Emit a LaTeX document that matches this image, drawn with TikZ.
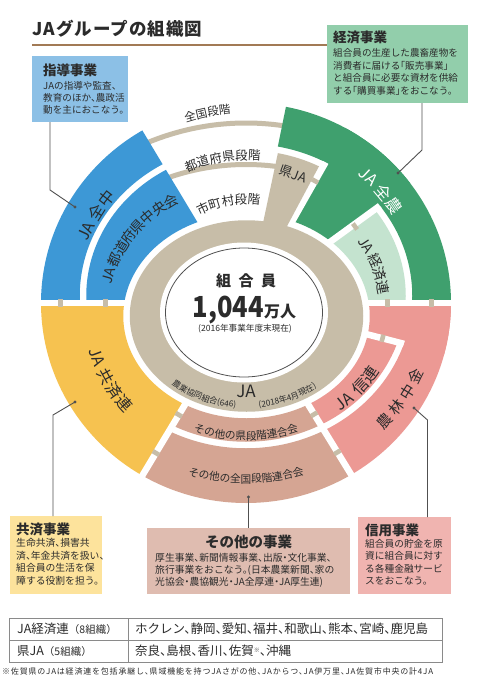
\documentclass[tikz,border=0pt]{standalone}
\usepackage{fontspec}
\usepackage{graphicx}
\setmainfont{Noto Sans CJK JP}
\newfontfamily\hfont{Noto Sans CJK JP}[RawFeature=+halt]
\usetikzlibrary{decorations.text}
\definecolor{cBlue}{HTML}{3D98D6}
\definecolor{cBlueBox}{HTML}{8CC0E6}
\definecolor{cGreen}{HTML}{3FA06E}
\definecolor{cLtGreen}{HTML}{C4E3CF}
\definecolor{cGreenBox}{HTML}{92CEAB}
\definecolor{cYellow}{HTML}{F6C250}
\definecolor{cYellowBox}{HTML}{FDE39C}
\definecolor{cPink}{HTML}{EC9994}
\definecolor{cPinkBox}{HTML}{F0B4B0}
\definecolor{cBrown}{HTML}{D5A593}
\definecolor{cBrownBox}{HTML}{DFBCB0}
\definecolor{cBeige}{HTML}{C7BDA8}
\definecolor{cText}{HTML}{2B2B2B}
\definecolor{cLine}{HTML}{505050}
\definecolor{cRule}{HTML}{A27A55}
\definecolor{cTable}{HTML}{8A8A8A}
\def\OutThree{(246,-303) ellipse [x radius=205, y radius=200]}
\def\InThree{(246,-296) ellipse [x radius=166.25, y radius=152.25]}
\def\OutTwo{(246,-296) ellipse [x radius=159.75, y radius=145.75]}
\def\InTwo{(246.5,-316) ellipse [x radius=123.25, y radius=102.25]}
\def\OutOne{(246.5,-316) ellipse [x radius=116.75, y radius=95.75]}
\def\InOne{(244,-312.5) ellipse [x radius=84, y radius=70]}
\def\CoreE{(244,-312.5) ellipse [x radius=78.5, y radius=64.5]}
\newcommand\ringsector[4]{%
  \begin{scope}
    \clip (246,-303) -- ++(#2:420) arc[start angle=#2,end angle=#3,radius=420] -- cycle;
    \fill[#1,even odd rule] #4;
  \end{scope}}
\newcommand\arctext[7]{%
  \path[decorate, decoration={text along path, text={#1}, text align=center}]
    ([shift={(#2,#3)}]#6:#4 and #5) arc[start angle=#6, end angle=#7, x radius=#4, y radius=#5];}
% characters placed one by one on an ellipse: name, cx, cy, rx, ry, mode (1 tops out / -1 tops in), angle/char list, style
\newcommand\charlabel[8]{%
  \foreach \ang/\cc [count=\i] in {#7} {%
    \pgfmathsetmacro\rot{ifthenelse(#6>0, atan2(-(#5)*cos(\ang),(#4)*sin(\ang)), atan2((#5)*cos(\ang),-(#4)*sin(\ang)))}%
    \node[rotate=\rot, inner sep=0pt, #8] (#1\i) at ([shift={(#2,#3)}]\ang:#4 and #5) {\cc};
  }}
\begin{document}
\begin{tikzpicture}[x=1pt,y=1pt,
  gapline/.style={white, line width=6.5pt},
  stubn/.style={fill=cBeige, draw=none, inner sep=0pt, minimum width=4.6pt, minimum height=7.2pt},
  conn/.style={draw=cLine, line width=0.9pt},
  dotn/.style={circle, fill=cLine, inner sep=0pt, minimum size=3.4pt},
  boxn/.style={anchor=north west, inner sep=0pt, outer sep=0pt, draw=none},
  ttl/.style={anchor=west, inner sep=0pt, text=cText, font=\bfseries\fontsize{13.5}{14}\selectfont},
  body/.style={anchor=north west, inner sep=0pt, align=left, text=cText},
  bigl/.style={text=cText, font=\fontsize{16}{16}\selectfont},
  midl/.style={text=cText, font=\fontsize{14}{14}\selectfont}]
\useasboundingbox (0,0) rectangle (490,-680);
\fill[white] (0,0) rectangle (490,-680);

% title
\node[anchor=west, inner sep=0pt, text=cText, font=\bfseries\fontsize{17.5}{18}\selectfont\addfontfeature{LetterSpace=6}] (title) at (32,-28.5) {JAグループの組織図};

% thin level arcs in the top wedge
\draw[cBeige, line width=5pt] ([shift={(246,-380)}]125:257) arc[start angle=125,end angle=75,radius=257];
\draw[cBeige, line width=5pt] ([shift={(246,-401)}]112:236.5) arc[start angle=112,end angle=80,radius=236.5];

% sectors
\ringsector{cBlue}{121}{180}{\OutThree\InThree}
\ringsector{cBlue}{121}{180}{\OutTwo\InTwo}
\ringsector{cYellow}{180}{239}{\OutThree\InTwo}
\ringsector{cBrown}{239}{301.5}{\OutTwo\InTwo}
\ringsector{cBrown}{239}{301.5}{\OutThree\InThree}
\ringsector{cPink}{301.5}{345.5}{\OutTwo\InTwo}
\ringsector{cPink}{301.5}{360}{\OutThree\InThree}
\ringsector{cPink}{345.5}{360}{\OutThree\InTwo}
\ringsector{cLtGreen}{0}{36}{\OutTwo\InTwo}
\ringsector{cGreen}{0}{78.5}{\OutThree\InThree}
\ringsector{cGreen}{36}{60.5}{\OutThree\InTwo}

% white gaps
\foreach \a in {180,239,301.5,0} \draw[gapline] (246,-303) -- ++(\a:260);
\begin{scope}
  \clip \InThree;
  \foreach \a in {345.5,36,60.5} \draw[gapline] (246,-303) -- ++(\a:260);
\end{scope}

% municipal ring, prefecture JA, core
\fill[cBeige] \OutOne;
\ringsector{cBeige}{61.9}{78}{\OutTwo\InOne}
\fill[white] \InOne;
\draw[cLine, line width=0.8pt] \CoreE;

% small beige bridges across the gaps
\node[stubn] (st1) at (60.5,-303) {};
\node[stubn] (st2) at (105.3,-303) {};
\node[stubn, rotate=239] (st3) at (155.9,-453) {};
\node[stubn, rotate=239] (st4) at (178.8,-414.8) {};
\node[stubn, rotate=301.5] (st5) at (337.3,-452.3) {};
\node[stubn, rotate=301.5] (st6) at (314.1,-414.3) {};
\node[stubn] (st7) at (431.5,-303) {};
\node[stubn] (st8) at (387.2,-303) {};
\node[stubn, rotate=345.5] (st9) at (382.5,-338.3) {};
\node[stubn, rotate=36] (st10) at (355,-226.5) {};
\node[stubn, rotate=60.5] (st11) at (315,-181) {};

% level labels
\arctext{|\fontsize{11.5}{12}\selectfont\color{cText}|全国段階}{246}{-303}{190}{190}{141.5}{61.5}
\arctext{|\fontsize{12.5}{13}\selectfont\color{cText}|都道府県段階}{246}{-303}{143}{143}{139.3}{59.3}
\arctext{|\fontsize{12.5}{13}\selectfont\color{cText}|市町村段階}{246}{-303}{99}{99}{150}{50}
\node[rotate=-20, font=\fontsize{13}{13}\selectfont, text=cText, inner sep=0pt] (kenja) at (293,-174) {県JA};

% sector labels, one character at a time
\charlabel{zc}{246}{-299}{174.6}{168}{1}{156.2/JA,148.9/全,143.1/中}{bigl}
\charlabel{tc}{246}{-306}{141}{124}{1}{165.9/JA,158.2/都,152.2/道,146.2/府,140.2/県,134.2/中,128.2/央,122.2/会}{midl}
\charlabel{zn}{246}{-299}{176.9}{170.2}{1}{46.2/JA,38.9/全,33.1/農}{bigl, text=white}
\charlabel{kr}{246}{-306}{139}{121.8}{1}{30.1/JA,21.8/経,15.3/済,8.8/連}{midl}
\charlabel{ky}{246}{-309}{158}{147.8}{-1}{199.1/JA,207.3/共,213.6/済,219.9/連}{bigl}
\charlabel{sr}{246}{-306}{146.7}{128.6}{-1}{312.2/JA,321.1/信,328.1/連}{bigl}
\charlabel{nc}{246}{-299}{188}{180.9}{-1}{317.5/農,323.2/林,329/中,334.7/金}{text=cText, font=\fontsize{15}{15}\selectfont}
\arctext{|\fontsize{10.7}{11}\selectfont\color{cText}|その他の県段階連合会}{246}{-296}{158}{144}{225}{315}
\arctext{|\fontsize{10.7}{11}\selectfont\color{cText}|その他の全国段階連合会}{246}{-302}{198}{181}{230}{310}
\arctext{|\fontsize{8.3}{9}\selectfont\color{cText}|農業協同組合(646)}{246.5}{-316}{111.6}{92}{213}{278}
\arctext{|\fontsize{8.3}{9}\selectfont\color{cText}|(2018年4月現在)}{246.5}{-316}{111.6}{92}{261}{326}

% core texts
\node[font=\bfseries\fontsize{15}{15}\selectfont, text=cText, inner sep=0pt] (kumiai) at (246,-281) {組\hspace{7.5pt}合\hspace{7.5pt}員};
\node[anchor=base, inner sep=0pt, text=cText] (num) at (244.5,-317.5) {{\fontsize{29}{29}\selectfont\bfseries\scalebox{0.88}[1]{1,044}}{\fontsize{16}{16}\selectfont\bfseries 万人}};
\node[font=\fontsize{8.6}{9}\selectfont, text=cText, inner sep=0pt] (asof) at (245,-328.5) {(2016年事業年度末現在)};
\node[font=\fontsize{17}{17}\selectfont, text=cText, inner sep=0pt] (jaL) at (246,-391.5) {JA};

% boxes
\node[boxn, fill=cBlueBox, minimum width=96pt, minimum height=66pt] (bShido) at (32,-56) {};
\node[ttl] (tShido) at (43,-70) {指導事業};
\node[body, font=\hfont\fontsize{9.6}{12.2}\selectfont] (xShido) at (43,-81.2) {JAの指導や監査、\\教育のほか、農政活\\動を主におこなう。};

\node[boxn, fill=cGreenBox, minimum width=141pt, minimum height=78pt] (bKeizai) at (327,-25) {};
\node[ttl] (tKeizai) at (333,-37.5) {経済事業};
\node[body, font=\hfont\fontsize{9.6}{12.7}\selectfont] (xKeizai) at (333,-48.2) {組合員の生産した農畜産物を\\消費者に届ける「販売事業」\\と組合員に必要な資材を供給\\する「購買事業」をおこなう。};

\node[boxn, fill=cYellowBox, minimum width=92pt, minimum height=78pt] (bKyosai) at (10,-516) {};
\node[ttl] (tKyosai) at (16,-529) {共済事業};
\node[body, font=\hfont\fontsize{9.8}{12.6}\selectfont] (xKyosai) at (16,-538.1) {生命共済、損害共\\済、年金共済を扱い、\\組合員の生活を保\\障する役割を担う。};

\node[boxn, fill=cBrownBox, minimum width=203pt, minimum height=66pt] (bSonota) at (147,-528) {};
\node[ttl, anchor=center, font=\bfseries\fontsize{14.5}{15}\selectfont] (tSonota) at (248.5,-542) {その他の事業};
\node[body, font=\hfont\fontsize{9.8}{12}\selectfont] (xSonota) at (155,-553.1) {厚生事業、新聞情報事業、出版・文化事業、\\旅行事業をおこなう。(日本農業新聞、家の\\光協会・農協観光・JA全厚連・JA厚生連)};

\node[boxn, fill=cPinkBox, minimum width=93pt, minimum height=77pt] (bShinyo) at (358,-517) {};
\node[ttl] (tShinyo) at (365,-530) {信用事業};
\node[body, font=\hfont\fontsize{9.7}{12.4}\selectfont] (xShinyo) at (365,-539.2) {組合員の貯金を原\\資に組合員に対す\\る各種金融サービ\\スをおこなう。};

% title rule
\coordinate (ruleL) at (32,-45);
\draw[cRule, line width=1.8pt] (ruleL) -- (ruleL -| bKeizai.west);

% connectors
\node[dotn] (d1) at (75,-207) {};
\coordinate (k1) at (50,-190);
\draw[conn] (k1 |- bShido.south) -- (k1) -- (d1.center);
\node[dotn] (d2) at (398,-173) {};
\coordinate (k2) at (422,-150);
\draw[conn] (k2 |- bKeizai.south) -- (k2) -- (d2.center);
\node[dotn] (d3) at (75,-402) {};
\coordinate (k3) at (53,-415);
\draw[conn] (k3 |- bKyosai.north) -- (k3) -- (d3.center);
\node[dotn] (d4) at (248.5,-497) {};
\draw[conn] (d4.center |- bSonota.north) -- (d4.center);
\node[dotn] (d5) at (414,-408) {};
\coordinate (k5) at (427.5,-420);
\draw[conn] (k5 |- bShinyo.north) -- (k5) -- (d5.center);

% table
\node[boxn, draw=cTable, line width=0.8pt, minimum width=433pt, minimum height=44pt] (tbl) at (9,-618) {};
\draw[cTable, line width=0.8pt] (tbl.west) -- (tbl.east);
\coordinate (colx) at (128,-618);
\draw[cTable, line width=0.8pt] (colx) -- (colx |- tbl.south);
\node[anchor=west, inner sep=0pt, text=cText] (c11) at (17,-629) {{\fontsize{12.5}{13}\selectfont JA経済連}{\fontsize{10.5}{11}\selectfont（8組織）}};
\node[anchor=west, inner sep=0pt, text=cText, font=\hfont\fontsize{12.5}{13}\selectfont] (c12) at (135,-629) {ホクレン、静岡、愛知、福井、和歌山、熊本、宮崎、鹿児島};
\node[anchor=west, inner sep=0pt, text=cText] (c21) at (17,-651) {{\fontsize{12.5}{13}\selectfont 県JA}{\fontsize{10.5}{11}\selectfont（5組織）}};
\node[anchor=west, inner sep=0pt, text=cText, font=\hfont\fontsize{12.5}{13}\selectfont] (c22) at (135,-651) {奈良、島根、香川、佐賀\raisebox{3.5pt}{\fontsize{6}{6}\selectfont ※}、沖縄};
\node[anchor=west, inner sep=0pt, text=cText, font=\hfont\fontsize{8}{9}\selectfont\addfontfeature{LetterSpace=10}] (fn) at (2,-671) {※佐賀県のJAは経済連を包括承継し、県域機能を持つJAさがの他、JAからつ、JA伊万里、JA佐賀市中央の計4JA};
\end{tikzpicture}
\end{document}
